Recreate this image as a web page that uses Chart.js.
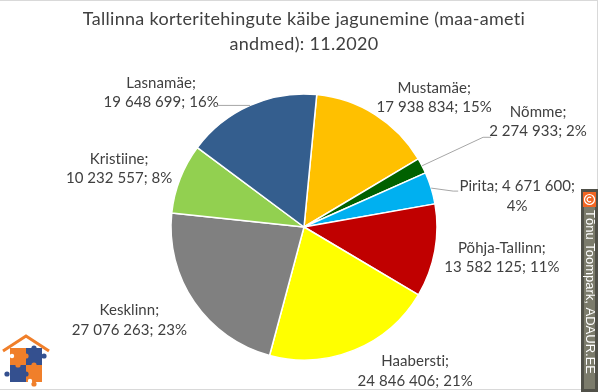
<!DOCTYPE html>
<html>
<head>
<meta charset="utf-8">
<script src="https://cdn.jsdelivr.net/npm/chart.js@4"></script>
<style>
  html, body { margin: 0; padding: 0; background: #fff; }
  #wrap { width: 600px; height: 392px; }
</style>
</head>
<body>
<div id="wrap"><canvas id="kaibeChart" width="600" height="392"></canvas></div>
<script>
// andmed (maa-amet, 11.2020)
const districts = ['Mustamäe', 'Nõmme', 'Pirita', 'Põhja-Tallinn', 'Haabersti', 'Kesklinn', 'Kristiine', 'Lasnamäe'];
const turnover = [17938834, 2274933, 4671600, 13582125, 24846406, 27076263, 10232557, 19648699];
const sharePct = [15, 2, 4, 11, 21, 23, 8, 16];
const sliceColors = ['#FFC000', '#006100', '#00B0F0', '#C00000', '#FFFF00', '#808080', '#92D050', '#345E8E'];
const titleLines = ['Tallinna korteritehingute käibe jagunemine (maa-ameti', 'andmed): 11.2020'];

// sildi asukoht lõigu välisserva keskpunkti suhtes
const labelOffsets = [[59, -17], [116, -44], [86, 8], [67, 7], [61, 21], [-65, 18], [-61, -10], [-89, -13]];
// juhtjoon: [dx, dy, horisontaalne jupp] sildi keskpunktist
const leaders = [null, [-47, 15.5, -8], [-59, -5, -5], null, null, null, null, [56, 13, 0]];
const valueOnFirstLine = [false, false, true, false, false, false, false, false];

function fmt(n) {
  return String(n).replace(/\B(?=(\d{3})+(?!\d))/g, ' ');
}

function labelLines(i) {
  if (valueOnFirstLine[i]) return [districts[i] + '; ' + fmt(turnover[i]) + ';', sharePct[i] + '%'];
  return [districts[i] + ';', fmt(turnover[i]) + '; ' + sharePct[i] + '%'];
}

// ligatuurid maha (Lato "ti")
const spacing = {
  id: 'spacing',
  beforeDraw(chart) {
    chart.ctx.letterSpacing = '0.3px';
  }
};

const sliceLabels = {
  id: 'sliceLabels',
  afterDatasetsDraw(chart) {
    const ctx = chart.ctx;
    const meta = chart.getDatasetMeta(0);
    ctx.save();
    ctx.letterSpacing = '0.05px';
    ctx.font = '15px Lato';
    ctx.fillStyle = '#404040';
    ctx.textAlign = 'center';
    ctx.textBaseline = 'middle';
    meta.data.forEach(function(arc, i) {
      const p = arc.getProps(['x', 'y', 'startAngle', 'endAngle', 'outerRadius'], true);
      const mid = (p.startAngle + p.endAngle) / 2;
      const ex = p.x + Math.cos(mid) * p.outerRadius;
      const ey = p.y + Math.sin(mid) * p.outerRadius;
      const cx = ex + labelOffsets[i][0];
      const cy = ey + labelOffsets[i][1];
      const lines = labelLines(i);
      lines.forEach(function(t, k) {
        ctx.fillText(t, cx, cy + (k - (lines.length - 1) / 2) * 19.5);
      });
      const l = leaders[i];
      if (l) {
        ctx.strokeStyle = '#a6a6a6';
        ctx.lineWidth = 1;
        ctx.beginPath();
        ctx.moveTo(cx + l[0], cy + l[1]);
        ctx.lineTo(cx + l[0] + l[2], cy + l[1]);
        ctx.lineTo(ex, ey);
        ctx.stroke();
      }
    });
    ctx.restore();
  }
};

// raam, logo ja autoriõiguse märk
const extras = {
  id: 'extras',
  afterDraw(chart) {
    const ctx = chart.ctx;
    ctx.save();
    ctx.letterSpacing = '0px';
    ctx.strokeStyle = '#d9d9d9';
    ctx.lineWidth = 1;
    ctx.strokeRect(-0.5, 0.5, 598, 389);

    // logo
    ctx.strokeStyle = '#f07f2a';
    ctx.lineWidth = 3;
    ctx.beginPath();
    ctx.moveTo(3, 351); ctx.lineTo(26, 336); ctx.lineTo(49, 351);
    ctx.stroke();
    const orange = '#f07f2a', blue = '#34508f';
    ctx.fillStyle = orange; ctx.fillRect(10, 348, 16, 17);
    ctx.fillStyle = blue; ctx.fillRect(26, 348, 16, 17);
    ctx.fillStyle = blue; ctx.fillRect(10, 365, 16, 17);
    ctx.fillStyle = orange; ctx.fillRect(26, 365, 16, 17);
    const knobs = [[34, 348, blue], [26, 356, orange], [44, 356, blue], [18, 365, orange], [7, 374, blue],
                   [26, 374, blue], [34, 365, orange], [34, 384, orange]];
    knobs.forEach(function(k) {
      ctx.fillStyle = k[2];
      ctx.beginPath(); ctx.arc(k[0], k[1], 2.6, 0, Math.PI * 2); ctx.fill();
    });
    ctx.fillStyle = '#fff';
    [[12, 356], [30, 381]].forEach(function(k) {
      ctx.beginPath(); ctx.arc(k[0], k[1], 2.2, 0, Math.PI * 2); ctx.fill();
    });

    // © märk
    ctx.fillStyle = '#7b7b6b';
    ctx.fillRect(582, 190, 15, 201);
    ctx.strokeStyle = '#505048';
    ctx.strokeRect(582.5, 190.5, 14, 200);
    ctx.fillStyle = '#f26522';
    ctx.fillRect(583, 192, 13, 15);
    ctx.strokeStyle = '#fff';
    ctx.lineWidth = 1.2;
    ctx.beginPath(); ctx.arc(589.5, 199.5, 5, 0, Math.PI * 2); ctx.stroke();
    ctx.beginPath(); ctx.arc(589.5, 199.5, 2.3, 0.8, Math.PI * 2 - 0.8); ctx.stroke();
    ctx.translate(589.5, 210);
    ctx.rotate(Math.PI / 2);
    ctx.fillStyle = '#fff';
    ctx.font = '13px "Liberation Sans"';
    ctx.textAlign = 'left';
    ctx.textBaseline = 'middle';
    ctx.fillText('Tõnu Toompark, ADAUR.EE', 0, 0);
    ctx.restore();
  }
};

const ctx = document.getElementById('kaibeChart').getContext('2d');
const kaibeChart = new Chart(ctx, {
  type: 'pie',
  data: {
    labels: districts,
    datasets: [{
      data: turnover,
      backgroundColor: sliceColors,
      borderColor: '#ffffff',
      borderWidth: 1.5
    }]
  },
  options: {
    responsive: false,
    animation: false,
    devicePixelRatio: 1,
    rotation: 5.5,
    layout: { padding: { top: 0, bottom: 31.25, left: 18, right: 10 } },
    plugins: {
      legend: { display: false },
      tooltip: { enabled: false },
      title: {
        display: true,
        text: titleLines,
        color: '#404040',
        font: { family: 'Lato', size: 18, weight: 'normal', lineHeight: 25 / 18 },
        padding: { top: 6.5, bottom: 36.75 }
      }
    }
  },
  plugins: [spacing, sliceLabels, extras]
});
</script>
</body>
</html>
